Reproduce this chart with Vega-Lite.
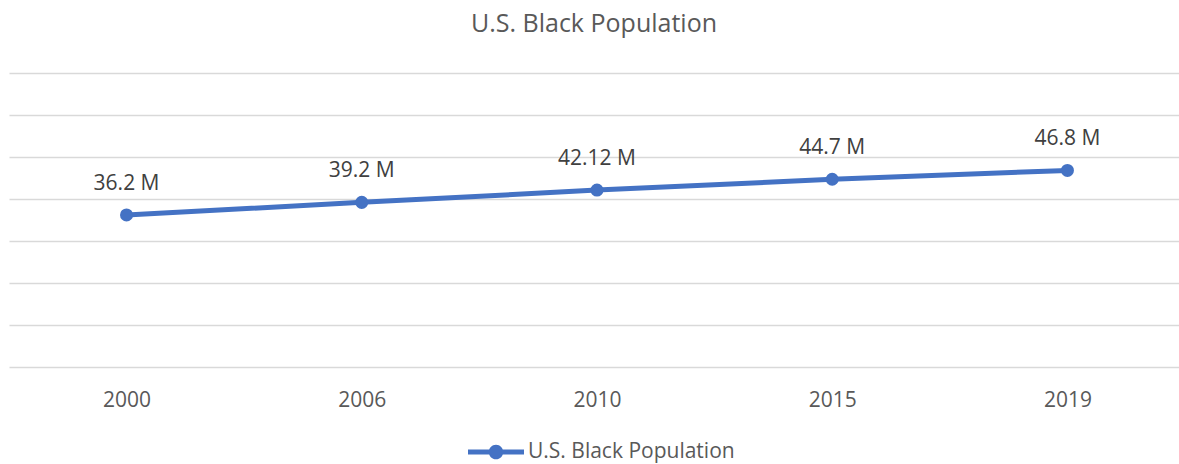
{
  "$schema": "https://vega.github.io/schema/vega-lite/v6.json",
  "autosize": {"type": "none"},
  "width": 1170,
  "height": 294,
  "padding": {"left": 9, "top": 73, "right": 0, "bottom": 97},
  "background": "#ffffff",
  "title": {
    "text": "U.S. Black Population",
    "font": "Open Sans",
    "fontSize": 25,
    "fontWeight": "normal",
    "color": "#595959",
    "anchor": "middle",
    "frame": "group",
    "baseline": "alphabetic",
    "offset": 16
  },
  "data": {
    "values": [
      {"year": "2000", "population": 36.2, "label": "36.2 M", "series": "U.S. Black Population"},
      {"year": "2006", "population": 39.2, "label": "39.2 M", "series": "U.S. Black Population"},
      {"year": "2010", "population": 42.12, "label": "42.12 M", "series": "U.S. Black Population"},
      {"year": "2015", "population": 44.7, "label": "44.7 M", "series": "U.S. Black Population"},
      {"year": "2019", "population": 46.8, "label": "46.8 M", "series": "U.S. Black Population"}
    ]
  },
  "encoding": {
    "x": {
      "field": "year",
      "type": "ordinal",
      "sort": null,
      "scale": {"type": "point", "padding": 0.487, "align": 0.513},
      "axis": {
        "title": null,
        "labelAngle": 0,
        "labelFont": "Open Sans",
        "labelFontSize": 21,
        "labelColor": "#595959",
        "labelPadding": 22,
        "ticks": false,
        "domain": false,
        "grid": false
      }
    },
    "y": {
      "field": "population",
      "type": "quantitative",
      "scale": {"domain": [0, 70], "nice": false},
      "axis": {
        "title": null,
        "labels": false,
        "ticks": false,
        "domain": false,
        "values": [0, 10, 20, 30, 40, 50, 60, 70],
        "grid": true,
        "gridColor": "#d9d9d9",
        "gridWidth": 1.4
      }
    }
  },
  "layer": [
    {
      "mark": {
        "type": "line",
        "strokeWidth": 5,
        "point": {"filled": true, "size": 170, "opacity": 1}
      },
      "encoding": {
        "color": {
          "field": "series",
          "type": "nominal",
          "scale": {"range": ["#4472C4"]},
          "legend": {
            "title": null,
            "orient": "none",
            "legendX": 459,
            "legendY": 351,
            "symbolType": "M-1,-0.09H1V0.09H-1Z M-0.26,0A0.26,0.26 0 1,1 0.26,0A0.26,0.26 0 1,1 -0.26,0Z",
            "symbolSize": 3136,
            "labelFont": "Open Sans",
            "labelFontSize": 21,
            "labelColor": "#595959",
            "labelOffset": 4,
            "labelLimit": 0,
            "padding": 0,
            "encode": {
              "symbols": {
                "update": {
                  "fill": {"value": "#4472C4"},
                  "stroke": {"value": "#4472C4"},
                  "strokeWidth": {"value": 0},
                  "opacity": {"value": 1}
                }
              }
            }
          }
        }
      }
    },
    {
      "mark": {
        "type": "text",
        "font": "Open Sans",
        "fontSize": 21,
        "color": "#404040",
        "baseline": "alphabetic",
        "dy": -25
      },
      "encoding": {
        "text": {"field": "label"}
      }
    }
  ],
  "config": {
    "view": {"stroke": null}
  }
}
